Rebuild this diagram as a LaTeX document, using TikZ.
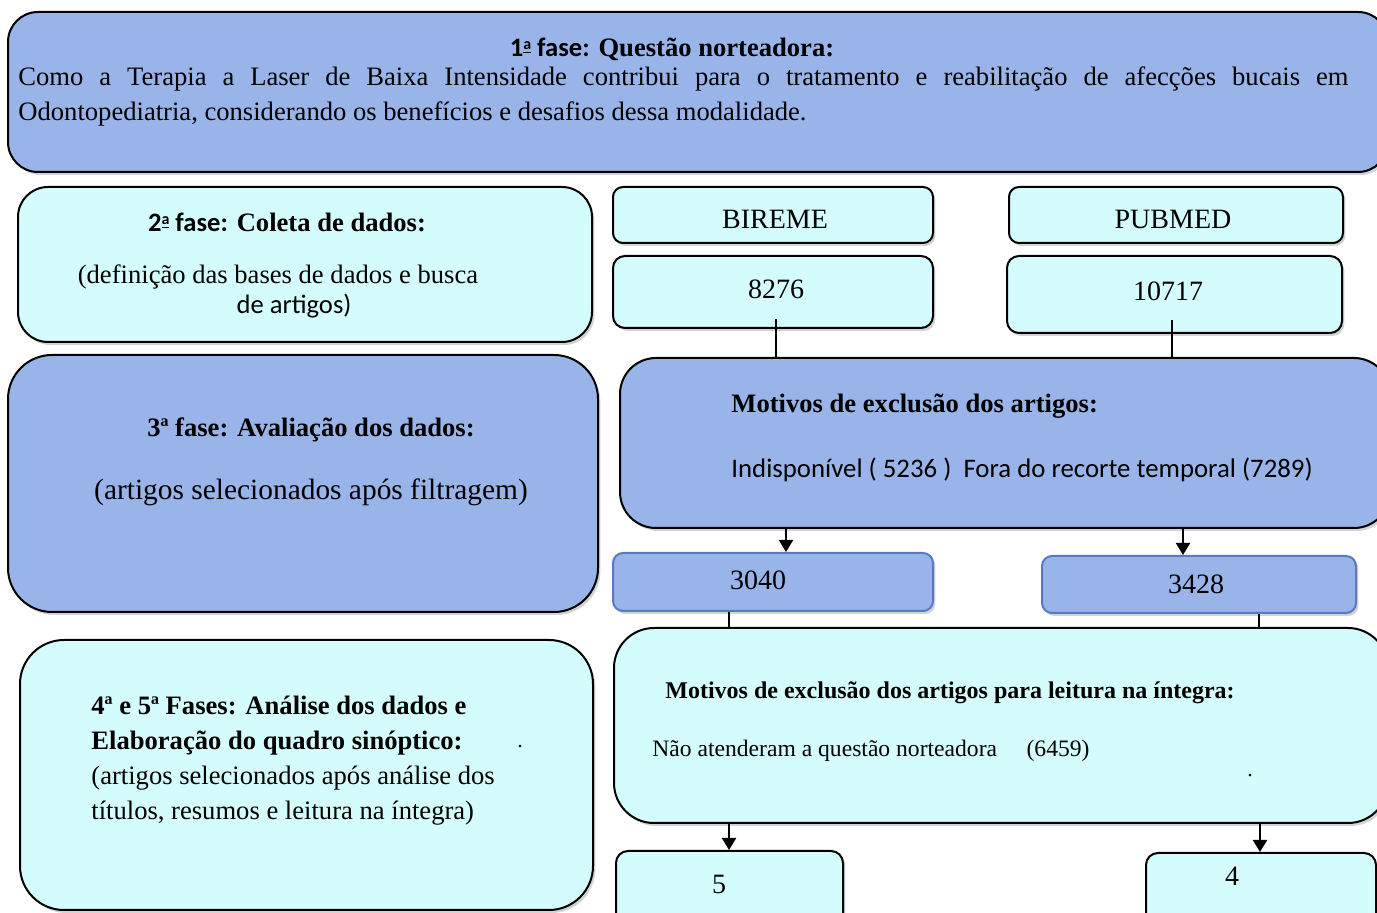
\documentclass[tikz,border=0pt]{standalone}
\usepackage{fontspec}
\setmainfont{Liberation Serif}
\newfontfamily\calibf{Carlito}
\usetikzlibrary{shadows,arrows.meta}
\definecolor{bluef}{RGB}{153,180,232}
\definecolor{cyanf}{RGB}{213,252,252}
\definecolor{blueedge}{RGB}{90,122,192}
\newcommand\fsz[1]{\fontsize{#1}{#1}\selectfont}
\newcommand\ordul{\raisebox{0.55ex}{\fsz{8}\underline{a}}}
\begin{document}
\begin{tikzpicture}[x=0.5pt,y=-0.5pt,
  boxbase/.style={rounded corners=#1, line width=1pt, inner sep=0pt,
     drop shadow={shadow xshift=1.2pt,shadow yshift=-1.5pt,opacity=0.35}},
  bluebox/.style={boxbase=#1, draw=black, fill=bluef},
  cyanbox/.style={boxbase=#1, draw=black, fill=cyanf},
  edgebox/.style={boxbase=#1, draw=blueedge, fill=bluef},
  txt/.style={inner sep=0pt},
  link/.style={line width=1pt},
  arr/.style={line width=1pt, -{Triangle[width=7pt,length=6pt]}}]
\useasboundingbox (0,0) rectangle (1377,913);
\clip (0,0) rectangle (1377,913);
% boxes
\node[bluebox=15pt, minimum width=690pt, minimum height=80pt] (top) at (698,92) {};
\node[cyanbox=15pt, minimum width=287pt, minimum height=77.5pt] (f2) at (305,264.5) {};
\node[cyanbox=5pt, minimum width=160pt, minimum height=28pt] (bireme) at (773,215) {};
\node[cyanbox=5pt, minimum width=167pt, minimum height=28pt] (pubmed) at (1176,215) {};
\node[cyanbox=6pt, minimum width=160pt, minimum height=36pt] (n8276) at (773,292) {};
\node[cyanbox=6pt, minimum width=167.5pt, minimum height=38.5pt] (n10717) at (1174.5,294.5) {};
\node[bluebox=22pt, minimum width=295pt, minimum height=128.5pt] (f3) at (303,483.5) {};
\node[bluebox=18pt, minimum width=385pt, minimum height=85pt] (mot) at (1005,443) {};
\node[edgebox=5pt, minimum width=160pt, minimum height=29pt] (n3040) at (773,582) {};
\node[edgebox=5pt, minimum width=157pt, minimum height=28.5pt] (n3428) at (1199,584.5) {};
\node[cyanbox=20pt, minimum width=387pt, minimum height=97.5pt] (leit) at (1001,725.5) {};
\node[cyanbox=22pt, minimum width=286.5pt, minimum height=135pt] (f45) at (306.5,775) {};
\node[cyanbox=6pt, minimum width=113.5pt, minimum height=42pt] (n5) at (729.5,893) {};
\node[cyanbox=6pt, minimum width=115pt, minimum height=41pt] (n4) at (1261,894) {};
% texts
\node[txt, anchor=base] (t1) at (672,57) {\fsz{13.3}\bfseries{\calibf 1\ordul\ fase:} Questão norteadora:};
\node[txt, anchor=base west] (t1a) at (18,86) {\fsz{13.3}\makebox[665pt][s]{Como a Terapia a Laser de Baixa Intensidade contribui para o tratamento e reabilitação de afecções bucais em}};
\node[txt, anchor=base west] (t1b) at (18,121) {\fsz{13.3}Odontopediatria, considerando os benefícios e desafios dessa modalidade.};
\node[txt, anchor=base] (t2) at (287,232) {\fsz{13.3}\bfseries{\calibf 2\ordul\ fase:} Coleta de dados:};
\node[txt, anchor=base] (t2a) at (278,284) {\fsz{13.3}(definição das bases de dados e busca};
\node[txt, anchor=base] (t2b) at (294,314) {\fsz{13.3}\calibf de artigos)};
\node[txt, anchor=base] (tbir) at (775,229) {\fsz{14}BIREME};
\node[txt, anchor=base] (tpub) at (1173,229) {\fsz{14}PUBMED};
\node[txt, anchor=base] (t8276) at (776,299) {\fsz{14}8276};
\node[txt, anchor=base] (t10717) at (1168,301) {\fsz{14}10717};
\node[txt, anchor=base] (t3) at (311,437) {\fsz{13.3}\bfseries 3ª fase: Avaliação dos dados:};
\node[txt, anchor=base] (t3a) at (311,500) {\fsz{14.7}(artigos selecionados após filtragem)};
\node[txt, anchor=base west] (tm) at (731,413) {\fsz{13.3}\bfseries Motivos de exclusão dos artigos:};
\node[txt, anchor=base west] (tma) at (731,478) {\fsz{13.4}\calibf Indisponível ( 5236 )\ \ Fora do recorte temporal (7289)};
\node[txt, anchor=base] (t3040) at (758,590) {\fsz{14}3040};
\node[txt, anchor=base] (t3428) at (1196,594) {\fsz{14}3428};
\node[txt, anchor=base west] (tl) at (665,699) {\fsz{12}\bfseries Motivos de exclusão dos artigos para leitura na íntegra:};
\node[txt, anchor=base west] (tla) at (652,757) {\fsz{11.8}Não atenderam a questão norteadora\quad\ (6459)};
\node[txt, anchor=base] (dot1) at (1250,777) {\fsz{11}.};
\node[txt, anchor=base west] (t45a) at (91,715) {\fsz{13.3}\bfseries 4ª e 5ª Fases: Análise dos dados e};
\node[txt, anchor=base west] (t45b) at (91,750) {\fsz{13.3}\bfseries Elaboração do quadro sinóptico:};
\node[txt, anchor=base west] (t45c) at (91,785) {\fsz{13.3}(artigos selecionados após análise dos};
\node[txt, anchor=base west] (t45d) at (91,820) {\fsz{13.3}títulos, resumos e leitura na íntegra)};
\node[txt, anchor=base] (dot2) at (520,748) {\fsz{11}.};
\node[txt, anchor=base] (t5) at (719,894) {\fsz{14}5};
\node[txt, anchor=base] (t4) at (1232,886) {\fsz{14}4};
% connector columns
\coordinate (ca) at (776,0);
\coordinate (cb) at (1172,0);
\coordinate (cc) at (786,0);
\coordinate (cd) at (1183,0);
\coordinate (ce) at (729,0);
\coordinate (cf) at (1259,0);
\coordinate (cg) at (729,0);
\coordinate (ch) at (1260,0);
\draw[link] ([yshift=5pt]n8276.south -| ca) -- (mot.north -| ca);
\draw[link] ([yshift=7pt]n10717.south -| cb) -- (mot.north -| cb);
\draw[arr] (mot.south -| cc) -- (n3040.north -| cc);
\draw[arr] (mot.south -| cd) -- (n3428.north -| cd);
\draw[link] (n3040.south -| ce) -- (leit.north -| ce);
\draw[link] (n3428.south -| cf) -- (leit.north -| cf);
\draw[arr] (leit.south -| cg) -- (n5.north -| cg);
\draw[arr] (leit.south -| ch) -- (n4.north -| ch);
\end{tikzpicture}
\end{document}
